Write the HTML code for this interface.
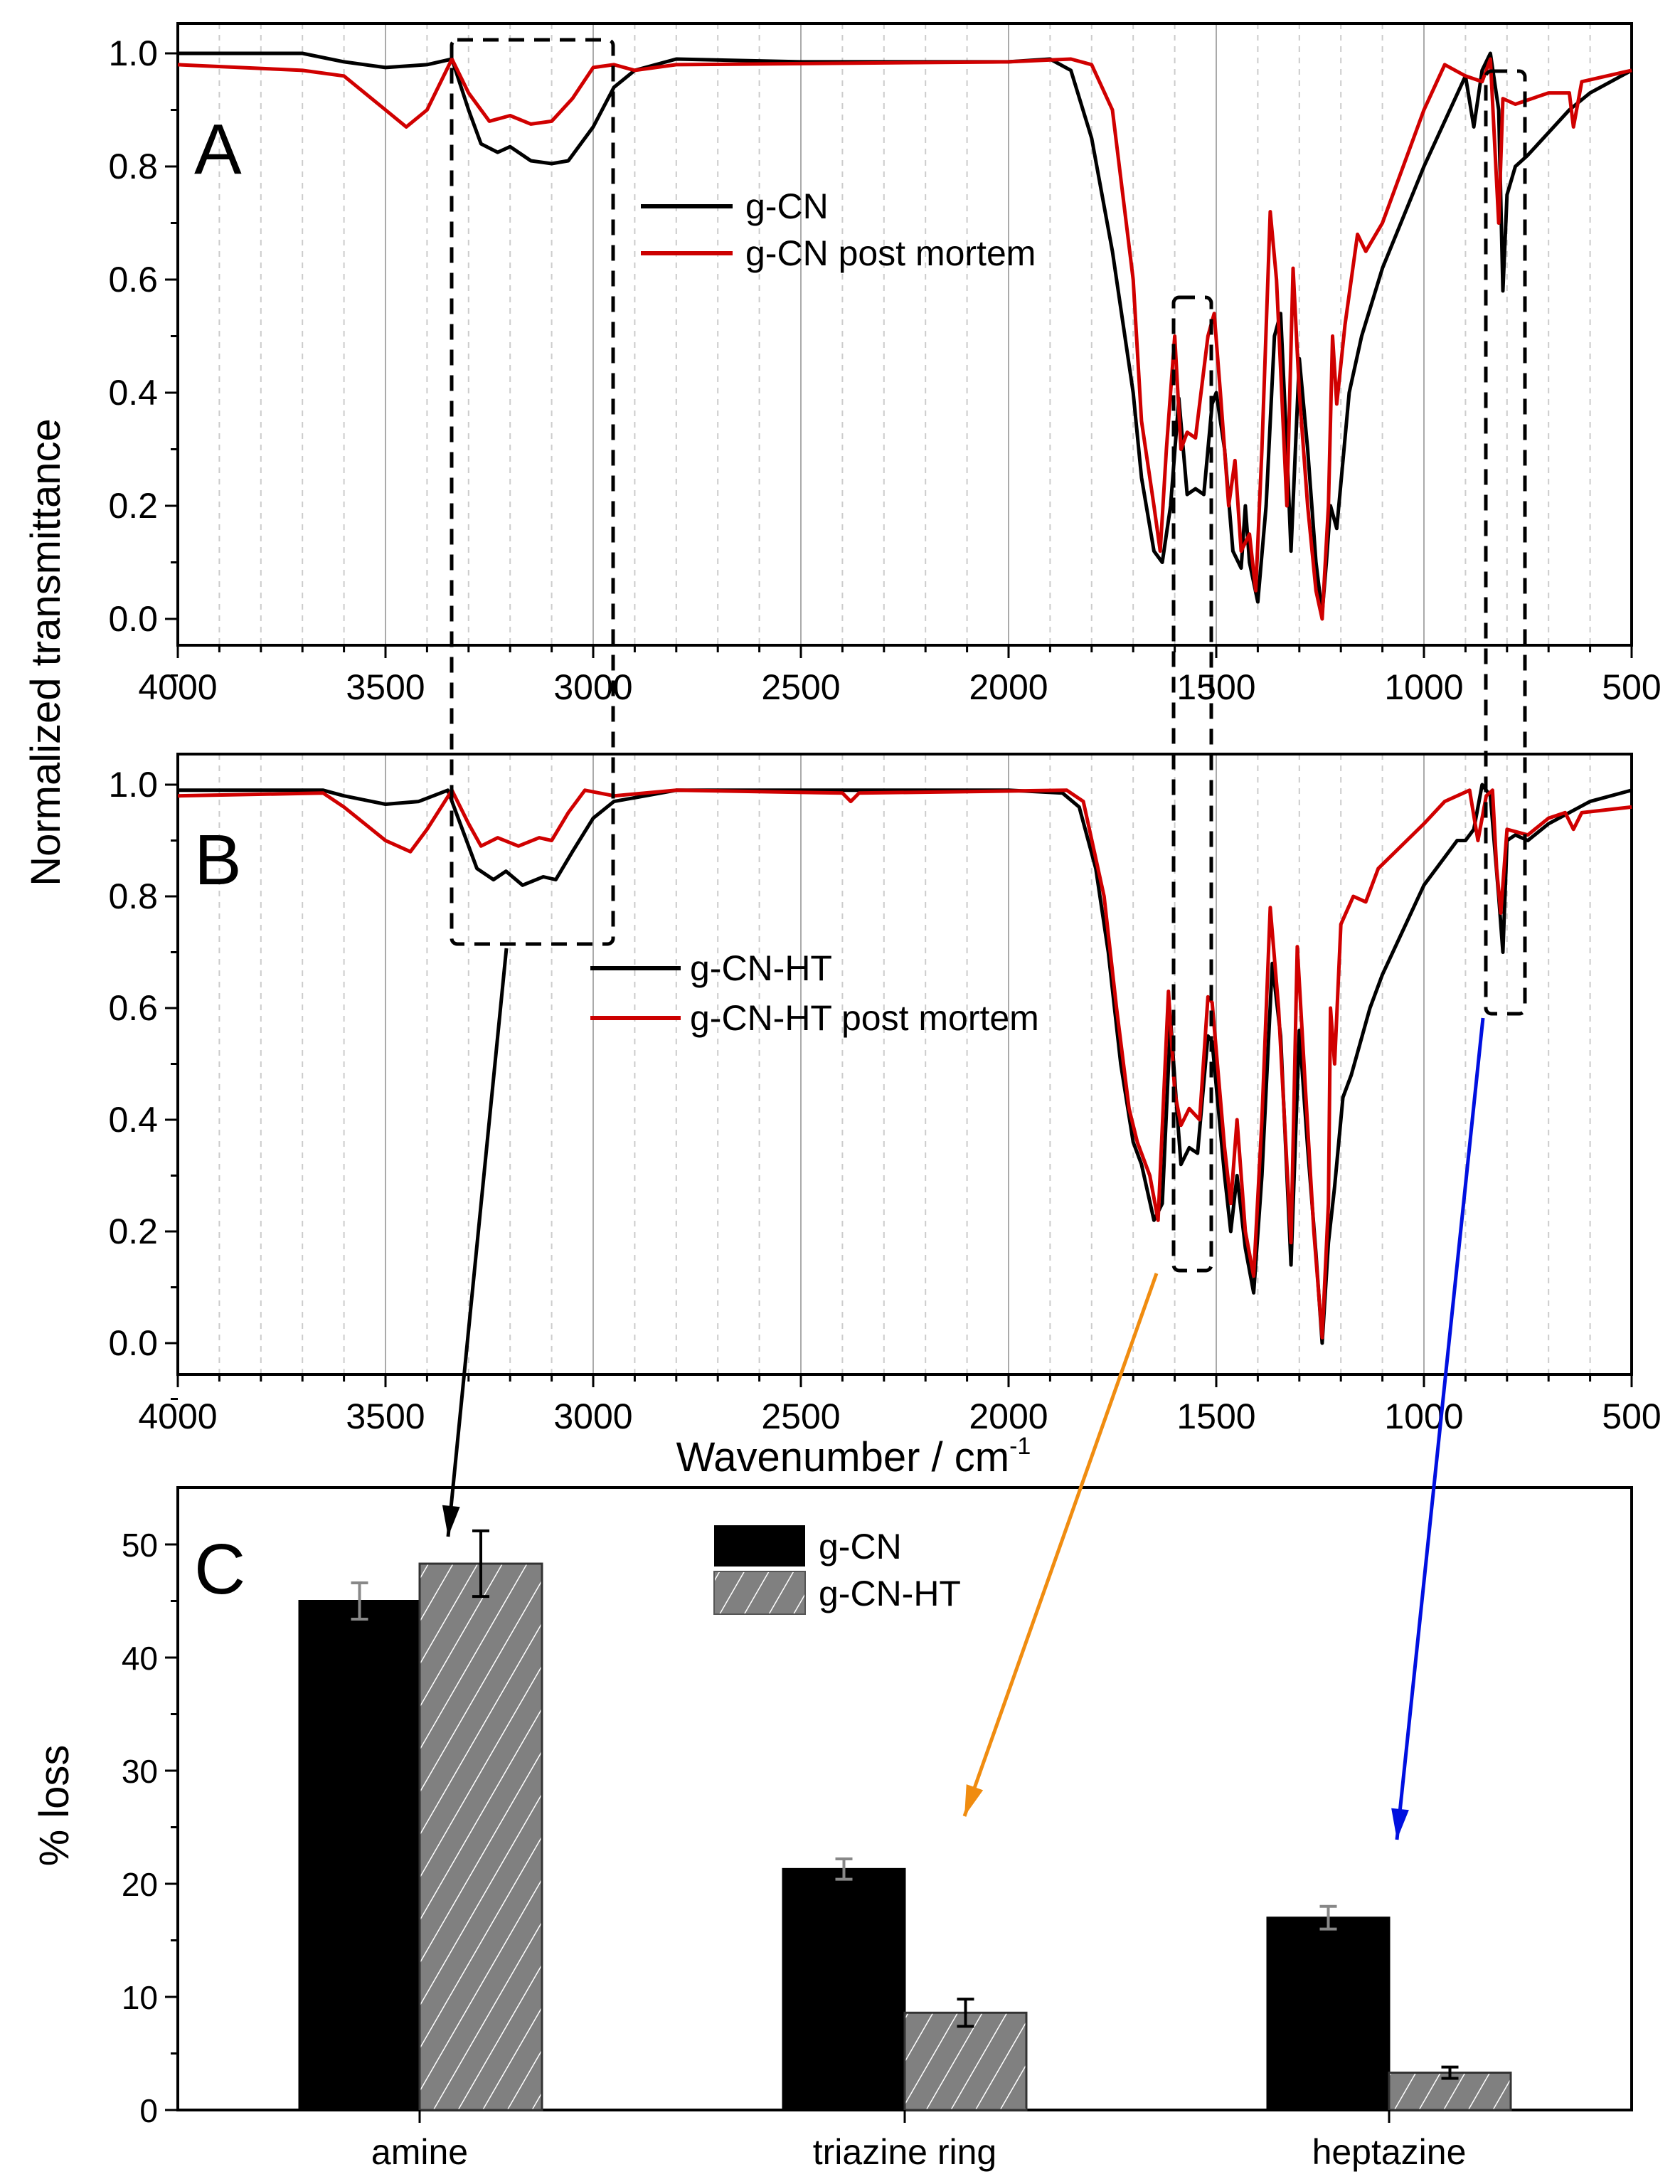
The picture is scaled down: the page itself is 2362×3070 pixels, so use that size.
<!DOCTYPE html>
<html><head><meta charset="utf-8"><style>
html,body{margin:0;padding:0;background:#fff}
svg{display:block}
text{font-family:"Liberation Sans",sans-serif;fill:#000}
</style></head><body>
<svg id="s" width="2362" height="3070" viewBox="0 0 2362 3070" xmlns="http://www.w3.org/2000/svg">
<defs>
<pattern id="hatch" patternUnits="userSpaceOnUse" width="30" height="30" patternTransform="rotate(30)">
<rect width="30" height="30" fill="#808080"/>
<line x1="0" y1="0" x2="0" y2="30" stroke="#fff" stroke-width="3"/>
</pattern>
</defs>
<g id="g"></g>
<text x="273" y="244" font-size="100">A</text>
<text x="273" y="1243" font-size="100">B</text>
<text x="273" y="2240" font-size="100">C</text>
<text transform="translate(84,917) rotate(-90)" font-size="58" text-anchor="middle">Normalized transmittance</text>
<text x="1200" y="2068" font-size="58" text-anchor="middle">Wavenumber / cm<tspan font-size="34" dy="-24">-1</tspan></text>
<text transform="translate(96,2538) rotate(-90)" font-size="58" text-anchor="middle">% loss</text>
<line x1="901" y1="290" x2="1030" y2="290" stroke="#000" stroke-width="6"/>
<line x1="901" y1="356" x2="1030" y2="356" stroke="#c00" stroke-width="6"/>
<text x="1048" y="307" font-size="50">g-CN</text>
<text x="1048" y="373" font-size="50">g-CN post mortem</text>
<line x1="830" y1="1361" x2="957" y2="1361" stroke="#000" stroke-width="6"/>
<line x1="830" y1="1431" x2="957" y2="1431" stroke="#c00" stroke-width="6"/>
<text x="970" y="1378" font-size="50">g-CN-HT</text>
<text x="970" y="1448" font-size="50">g-CN-HT post mortem</text>
<rect x="1004" y="2144" width="128" height="58" fill="#000"/>
<rect x="1004" y="2209" width="128" height="60" fill="url(#hatch)" stroke="#555" stroke-width="2"/>
<text x="1151" y="2191" font-size="50">g-CN</text>
<text x="1151" y="2257" font-size="50">g-CN-HT</text>
</svg>
<script>
var NS="http://www.w3.org/2000/svg",G=document.getElementById('g');
function el(t,a){var e=document.createElementNS(NS,t);for(var k in a)e.setAttribute(k,a[k]);G.appendChild(e);return e;}
function X(w){return 250+(4000-w)/3500*2044;}
function txt(x,y,s,fs,anc){var e=el('text',{x:x,y:y,'font-size':fs,'text-anchor':anc||'middle'});e.textContent=s;}
function panel(top,bot,y1,y0){
  for(var w=3900;w>500;w-=100){ if(w%500==0)continue; el('line',{x1:X(w),y1:top,x2:X(w),y2:bot,stroke:'#ccc','stroke-width':2,'stroke-dasharray':'8,8'});}
  for(var w=3500;w>500;w-=500) el('line',{x1:X(w),y1:top,x2:X(w),y2:bot,stroke:'#aaa','stroke-width':2});
  el('rect',{x:250,y:top,width:2044,height:bot-top,fill:'none',stroke:'#000','stroke-width':4});
  for(var w=4000;w>=500;w-=100){var L=(w%500==0)?18:10;el('line',{x1:X(w),y1:bot,x2:X(w),y2:bot+L,stroke:'#000','stroke-width':3});}
  for(var w=4000;w>=500;w-=500) txt(X(w),bot+76,String(w),50);
  var st=(y0-y1)/5;
  for(var i=0;i<=5;i++){var y=y0-i*st;el('line',{x1:232,y1:y,x2:250,y2:y,stroke:'#000','stroke-width':3});txt(222,y+17,(i*0.2).toFixed(1),50,'end');
    el('line',{x1:240,y1:y+st/2,x2:250,y2:y+st/2,stroke:'#000','stroke-width':3});}
}
function curve(d,y1,y0,col){var p='';for(var i=0;i<d.length;i+=2){p+=(i?'L':'M')+X(d[i]).toFixed(1)+','+(y0-(y0-y1)*d[i+1]).toFixed(1);}
  el('path',{d:p,fill:'none',stroke:col,'stroke-width':5,'stroke-linejoin':'round'});}
panel(33,907,75,870);
panel(1060,1932,1103,1888);
var Ab=[4000,1,3700,1,3600,.985,3500,.975,3400,.98,3340,.99,3300,.9,3270,.84,3230,.825,3200,.835,3150,.81,3100,.805,3060,.81,3000,.87,2950,.94,2900,.97,2800,.99,2500,.985,2000,.985,1900,.99,1850,.97,1800,.85,1750,.65,1700,.4,1680,.25,1650,.12,1630,.1,1610,.2,1590,.39,1570,.22,1550,.23,1530,.22,1510,.38,1500,.4,1480,.3,1460,.12,1440,.09,1430,.2,1420,.1,1400,.03,1380,.2,1360,.5,1345,.54,1330,.3,1320,.12,1300,.46,1280,.3,1260,.1,1245,.01,1235,.1,1225,.2,1210,.16,1180,.4,1150,.5,1100,.62,1000,.8,950,.88,900,.96,880,.87,860,.97,840,1,820,.9,810,.58,800,.75,780,.8,750,.82,700,.86,650,.9,600,.93,500,.97];
var Ar=[4000,.98,3700,.97,3600,.96,3500,.9,3450,.87,3400,.9,3340,.99,3300,.93,3250,.88,3200,.89,3150,.875,3100,.88,3050,.92,3000,.975,2950,.98,2900,.97,2800,.98,2000,.985,1850,.99,1800,.98,1750,.9,1700,.6,1680,.35,1650,.2,1635,.12,1620,.3,1600,.5,1585,.3,1570,.33,1550,.32,1520,.5,1505,.54,1490,.4,1470,.2,1455,.28,1440,.12,1420,.15,1405,.05,1390,.3,1370,.72,1355,.6,1330,.2,1315,.62,1300,.4,1280,.2,1260,.05,1245,0,1230,.2,1220,.5,1210,.38,1190,.52,1160,.68,1140,.65,1100,.7,1000,.9,950,.98,900,.96,860,.95,840,.99,820,.7,810,.92,780,.91,700,.93,650,.93,640,.87,620,.95,500,.97];
var Bb=[4000,.99,3650,.99,3600,.98,3500,.965,3420,.97,3350,.99,3320,.93,3280,.85,3240,.83,3210,.845,3170,.82,3120,.835,3090,.83,3050,.88,3000,.94,2950,.97,2800,.99,2000,.99,1870,.985,1830,.96,1790,.85,1760,.7,1730,.5,1700,.36,1680,.32,1650,.22,1630,.25,1610,.58,1595,.42,1585,.32,1565,.35,1545,.34,1520,.55,1510,.54,1480,.3,1465,.2,1450,.3,1430,.17,1410,.09,1390,.3,1365,.68,1345,.55,1320,.14,1300,.56,1280,.35,1260,.16,1245,0,1230,.18,1215,.28,1195,.44,1175,.48,1130,.6,1100,.66,1000,.82,920,.9,900,.9,880,.92,860,1,840,.98,820,.8,810,.7,800,.9,780,.91,750,.9,700,.93,600,.97,500,.99];
var Br=[4000,.98,3650,.985,3600,.96,3500,.9,3440,.88,3400,.92,3340,.99,3300,.93,3270,.89,3230,.905,3180,.89,3130,.905,3100,.9,3060,.95,3020,.99,2950,.98,2800,.99,2400,.985,2380,.97,2360,.985,1860,.99,1820,.97,1770,.8,1740,.6,1710,.42,1690,.36,1660,.3,1640,.22,1615,.63,1600,.45,1585,.39,1565,.42,1540,.4,1520,.62,1510,.61,1480,.35,1465,.25,1450,.4,1430,.2,1410,.12,1390,.4,1370,.78,1350,.6,1320,.18,1305,.71,1285,.45,1265,.2,1245,.01,1230,.25,1225,.6,1215,.5,1200,.75,1170,.8,1140,.79,1110,.85,1000,.93,950,.97,890,.99,870,.9,850,.98,835,.99,825,.85,815,.77,800,.92,750,.91,700,.94,660,.95,640,.92,620,.95,500,.96];
curve(Ab,75,870,'#000');curve(Ar,75,870,'#d00000');
curve(Bb,1103,1888,'#000');curve(Br,1103,1888,'#d00000');
var ct=2091,cb=2966,c50=2171,st=(cb-c50)/50;
el('rect',{x:250,y:ct,width:2044,height:cb-ct,fill:'none',stroke:'#000','stroke-width':4});
for(var v=0;v<=50;v+=10){var y=cb-v*st;el('line',{x1:232,y1:y,x2:250,y2:y,stroke:'#000','stroke-width':3});txt(222,y+17,String(v),46,'end');
  if(v<50)el('line',{x1:240,y1:y-5*st,x2:250,y2:y-5*st,stroke:'#000','stroke-width':3});}
var bars=[[421,590,45,1.6],[590,762,48.3,2.9],[1101,1272,21.3,0.9],[1272,1443,8.6,1.2],[1782,1953,17,1.0],[1953,2124,3.3,0.5]];
bars.forEach(function(b,i){var y=cb-b[2]*st;el('rect',{x:b[0],y:y,width:b[1]-b[0],height:cb-y,fill:i%2?'url(#hatch)':'#000',stroke:i%2?'#333':'#000','stroke-width':3});
  var xc=(b[0]+b[1])/2,ec=i%2?'#000':'#888',e1=y-b[3]*st,e2=y+b[3]*st;
  el('line',{x1:xc,y1:e1,x2:xc,y2:e2,stroke:ec,'stroke-width':4});el('line',{x1:xc-12,y1:e1,x2:xc+12,y2:e1,stroke:ec,'stroke-width':4});el('line',{x1:xc-12,y1:e2,x2:xc+12,y2:e2,stroke:ec,'stroke-width':4});});
[[590,'amine'],[1272,'triazine ring'],[1953,'heptazine']].forEach(function(c){el('line',{x1:c[0],y1:cb,x2:c[0],y2:cb+18,stroke:'#000','stroke-width':3});txt(c[0],cb+76,c[1],50);});
function dbox(x1,y1,x2,y2){el('rect',{x:x1,y:y1,width:x2-x1,height:y2-y1,fill:'none',stroke:'#000','stroke-width':5,'stroke-dasharray':'22,14',rx:8});}
dbox(635,56,862,1327);dbox(1650,418,1703,1786);dbox(2089,100,2144,1425);
function arrow(x1,y1,x2,y2,c){el('line',{x1:x1,y1:y1,x2:x2,y2:y2,stroke:c,'stroke-width':5});
  var a=Math.atan2(y2-y1,x2-x1),L=45,w=0.28;
  el('polygon',{points:x2+','+y2+' '+(x2-L*Math.cos(a-w))+','+(y2-L*Math.sin(a-w))+' '+(x2-L*Math.cos(a+w))+','+(y2-L*Math.sin(a+w)),fill:c});}
arrow(712,1333,630,2160,'#000');arrow(1626,1790,1356,2553,'#f08c10');arrow(2085,1431,1964,2586,'#0010e0');
</script>
</body></html>
